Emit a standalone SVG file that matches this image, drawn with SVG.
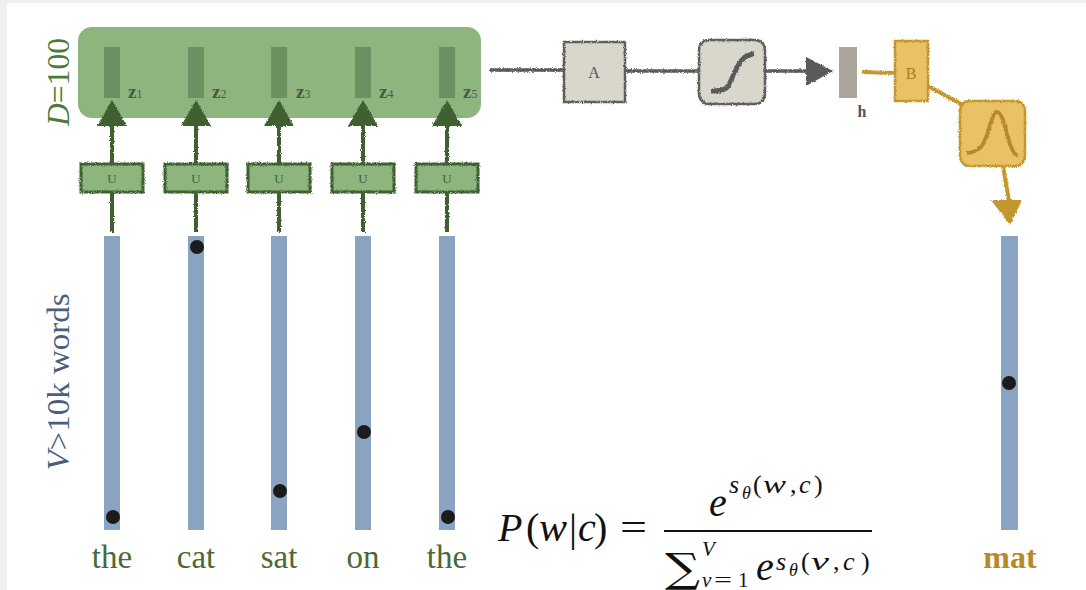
<svg xmlns="http://www.w3.org/2000/svg" width="1086" height="590" viewBox="0 0 1086 590">
<defs>
<filter id="rough" x="-20%" y="-20%" width="140%" height="140%">
<feTurbulence type="fractalNoise" baseFrequency="0.8" numOctaves="2" seed="3" result="n"/>
<feDisplacementMap in="SourceGraphic" in2="n" scale="3" xChannelSelector="R" yChannelSelector="G"/>
</filter>
<style>
.zbar{fill:#6c9160}
.ubox{fill:#8fb57f;stroke:#3f6130;stroke-width:3}
.utxt{font-family:"Liberation Serif",serif;font-size:13px;fill:#3f6130;text-anchor:middle}
.gline{stroke:#3f6130;stroke-width:4;fill:none}
.garrow{fill:#3f6130}
.vbar{fill:#8aa3c0}
.dot{fill:#1b1b1b}
.word{font-family:"Liberation Serif",serif;font-size:33px;fill:#4a6a35;text-anchor:middle}
.zl{font-family:"Liberation Serif",serif;font-size:19px;font-weight:bold;fill:#4d5a45}
.zs{font-size:12px;font-weight:normal}
.gray{stroke:#5a5a5a;stroke-width:3.5;fill:none}
.gold{stroke:#c4962e;stroke-width:4;fill:none}
.m{font-family:"Liberation Serif","DejaVu Serif",serif;fill:#111}
.i{font-style:italic}
</style>
</defs>
<rect width="1086" height="590" fill="#efefef"/>
<rect x="7" y="3" width="1079" height="587" fill="#ffffff"/>

<rect id="embedding-box" x="78" y="27" width="403" height="91" rx="14" fill="#8fb57f"/>
<text x="69" y="82" transform="rotate(-90 69 82)" font-family="Liberation Serif, serif" font-size="32" fill="#4c7a3c" text-anchor="middle" textLength="88" lengthAdjust="spacingAndGlyphs"><tspan font-style="italic">D</tspan>=100</text>
<text x="69" y="382" transform="rotate(-90 69 382)" font-family="Liberation Serif, serif" font-size="32" fill="#4a5f80" text-anchor="middle" textLength="177" lengthAdjust="spacingAndGlyphs"><tspan font-style="italic">V</tspan>&gt;10k words</text>

<g id="connectors">
<g filter="url(#rough)">
<path class="gline" d="M112 232V192M112 163V124"/>
<path class="gline" d="M196 232V192M196 163V124"/>
<path class="gline" d="M279 232V192M279 163V124"/>
<path class="gline" d="M363 232V192M363 163V124"/>
<path class="gline" d="M447 232V192M447 163V124"/>
<polygon class="garrow" points="112,100 97,126 127,126"/>
<polygon class="garrow" points="196,100 181,126 211,126"/>
<polygon class="garrow" points="279,100 264,126 294,126"/>
<polygon class="garrow" points="363,100 348,126 378,126"/>
<polygon class="garrow" points="447,100 432,126 462,126"/>
<path class="gray" d="M490 70H564M625 71H699M766 71H808"/>
<polygon fill="#5a5a5a" points="833,71 806,57 806,86"/>
<path class="gold" d="M862 72L895 73M928 86L963 105M1003 166L1009 201"/>
<polygon fill="#c4962e" points="1010,225 991,200 1022,200"/>
</g>
</g>

<g id="z1"><rect class="zbar" x="104" y="47" width="16" height="51"/><text class="zl" x="128" y="98">z<tspan class="zs">1</tspan></text></g>
<g id="z2"><rect class="zbar" x="188" y="47" width="16" height="51"/><text class="zl" x="212" y="98">z<tspan class="zs">2</tspan></text></g>
<g id="z3"><rect class="zbar" x="271" y="47" width="16" height="51"/><text class="zl" x="296" y="98">z<tspan class="zs">3</tspan></text></g>
<g id="z4"><rect class="zbar" x="355" y="47" width="16" height="51"/><text class="zl" x="379" y="98">z<tspan class="zs">4</tspan></text></g>
<g id="z5"><rect class="zbar" x="439" y="47" width="16" height="51"/><text class="zl" x="463" y="98">z<tspan class="zs">5</tspan></text></g>

<g id="u1"><rect class="ubox" x="81" y="164" width="62" height="28" filter="url(#rough)"/><text class="utxt" x="112" y="183">U</text></g>
<g id="u2"><rect class="ubox" x="165" y="164" width="62" height="28" filter="url(#rough)"/><text class="utxt" x="196" y="183">U</text></g>
<g id="u3"><rect class="ubox" x="248" y="164" width="62" height="28" filter="url(#rough)"/><text class="utxt" x="279" y="183">U</text></g>
<g id="u4"><rect class="ubox" x="332" y="164" width="62" height="28" filter="url(#rough)"/><text class="utxt" x="363" y="183">U</text></g>
<g id="u5"><rect class="ubox" x="416" y="164" width="62" height="28" filter="url(#rough)"/><text class="utxt" x="447" y="183">U</text></g>

<g id="w1"><rect class="vbar" x="104" y="236" width="16" height="294"/><circle class="dot" cx="113" cy="517" r="7"/><text class="word" x="112" y="568">the</text></g>
<g id="w2"><rect class="vbar" x="188" y="236" width="16" height="294"/><circle class="dot" cx="197" cy="247" r="7"/><text class="word" x="196" y="568">cat</text></g>
<g id="w3"><rect class="vbar" x="271" y="236" width="16" height="294"/><circle class="dot" cx="280" cy="491" r="7"/><text class="word" x="279" y="568">sat</text></g>
<g id="w4"><rect class="vbar" x="355" y="236" width="16" height="294"/><circle class="dot" cx="364" cy="432" r="7"/><text class="word" x="363" y="568">on</text></g>
<g id="w5"><rect class="vbar" x="439" y="236" width="16" height="294"/><circle class="dot" cx="448" cy="517" r="7"/><text class="word" x="447" y="568">the</text></g>

<g id="A"><rect x="564" y="42" width="61" height="60" fill="#d9d6cc" stroke="#5e5e5e" stroke-width="2.5" filter="url(#rough)"/><text x="594" y="78" font-family="Liberation Serif, serif" font-size="16" fill="#555" text-anchor="middle">A</text></g>
<g id="sigmoid"><rect x="699" y="40" width="66" height="64" rx="10" fill="#d9d6cc" stroke="#5e5e5e" stroke-width="2.5" filter="url(#rough)"/><path d="M711 91C730 91 728 86 734 74C740 60 744 55 754 54" stroke="#5a5a5a" stroke-width="5" fill="none" filter="url(#rough)"/></g>
<g id="h"><rect x="839" y="47" width="18" height="51" fill="#aaa69c"/><text x="862" y="117" font-family="Liberation Serif, serif" font-size="16" font-weight="bold" fill="#555" text-anchor="middle">h</text></g>
<g id="B"><rect x="895" y="41" width="33" height="60" fill="#e9c266" stroke="#c4962e" stroke-width="2.5" filter="url(#rough)"/><text x="911" y="79" font-family="Liberation Serif, serif" font-size="16" fill="#a67c22" text-anchor="middle">B</text></g>
<g id="softmax"><rect x="960" y="101" width="65" height="65" rx="10" fill="#e9c266" stroke="#c4962e" stroke-width="2.5" filter="url(#rough)"/><path d="M967 153C980 152 984 145 988 132C992 118 994 112 997 112C1001 112 1004 122 1007 134C1010 146 1013 154 1018 156" stroke="#b8892a" stroke-width="4" fill="none" filter="url(#rough)"/></g>
<g id="mat"><rect class="vbar" x="1001" y="236" width="17" height="294"/><circle class="dot" cx="1009" cy="383" r="7"/><text x="1010" y="568" font-family="Liberation Serif, serif" font-size="32" font-weight="bold" fill="#b8892a" text-anchor="middle">mat</text></g>

<g id="formula" class="m">
<text x="498" y="541" font-size="40" class="i">P</text>
<text x="526" y="541" font-size="40">(</text>
<text x="539" y="541" font-size="40" class="i" textLength="28" lengthAdjust="spacingAndGlyphs">w</text>
<text x="569" y="541" font-size="40">|</text>
<text x="578" y="541" font-size="40" class="i">c</text>
<text x="594" y="541" font-size="40">)</text>
<text x="620" y="541" font-size="40" textLength="27" lengthAdjust="spacingAndGlyphs">=</text>
<rect x="664" y="530" width="208" height="2" fill="#111"/>
<text x="709" y="516" font-size="40" class="i">e</text>
<text x="729" y="493" font-size="26" class="i">s</text>
<text x="742" y="499" font-size="18" class="i">θ</text>
<text x="753" y="493" font-size="26">(</text>
<text x="763" y="493" font-size="26" class="i" textLength="23" lengthAdjust="spacingAndGlyphs">w</text>
<text x="790" y="493" font-size="26">,</text>
<text x="799" y="493" font-size="26" class="i">c</text>
<text x="814" y="493" font-size="26">)</text>
<text x="665" y="582" font-size="40" font-family="DejaVu Serif, serif" textLength="35" lengthAdjust="spacingAndGlyphs">∑</text>
<text x="702" y="556" font-size="21" class="i">V</text>
<text x="702" y="587" font-size="21" class="i">v</text>
<text x="714" y="587" font-size="21" textLength="18" lengthAdjust="spacingAndGlyphs">=</text>
<text x="738" y="587" font-size="21">1</text>
<text x="756" y="580" font-size="40" class="i">e</text>
<text x="776" y="570" font-size="26" class="i">s</text>
<text x="789" y="576" font-size="18" class="i">θ</text>
<text x="801" y="570" font-size="26">(</text>
<text x="811" y="570" font-size="26" class="i" textLength="18" lengthAdjust="spacingAndGlyphs">v</text>
<text x="833" y="570" font-size="26">,</text>
<text x="843" y="570" font-size="26" class="i">c</text>
<text x="861" y="570" font-size="26">)</text>
</g>
</svg>
